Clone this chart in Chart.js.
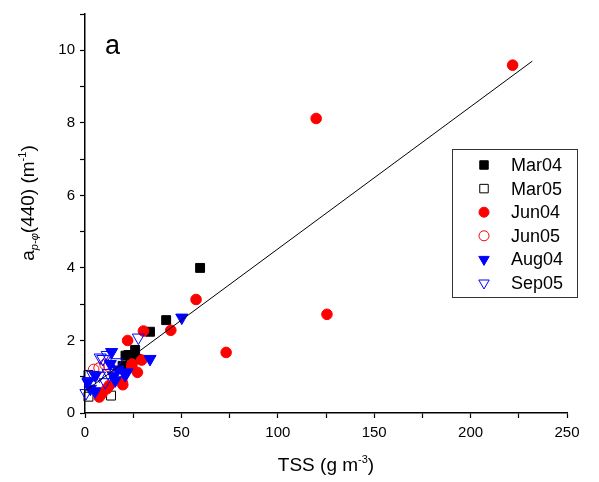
<!DOCTYPE html>
<html>
<head>
<meta charset="utf-8">
<script src="https://cdn.jsdelivr.net/npm/chart.js@4.4.1/dist/chart.umd.min.js"></script>
<style>
  html, body { margin: 0; padding: 0; background: #fff; }
  #wrap { width: 599px; height: 482px; position: relative; }
</style>
</head>
<body>
<div id="wrap"><canvas id="tssChart"></canvas></div>
<script>
// data (TSS g m-3, a_p-phi(440) m-1)
const mar04 = [[59.7,4.0],[42.1,2.56],[33.7,2.24],[26,1.74],[22.5,1.6],[21,1.58],[26.8,1.49],[19.5,1.3]];
const mar05 = [[1.8,1.05],[1.8,0.45],[13.5,0.48]];
const jun04 = [[221.8,9.59],[119.9,8.12],[125.5,2.72],[73.2,1.67],[57.6,3.13],[44.5,2.28],[30.3,2.26],
  [22.1,2.0],[29.4,1.46],[24.2,1.26],[27.2,1.12],[19.6,0.78],[19.2,0.86],[12.6,0.76],[8.8,0.54],
  [7.4,0.44],[11.4,0.67],[24.4,1.35]];
const jun05 = [[4.5,1.2],[7.3,1.24],[10.4,1.34],[12.5,1.28]];
const aug04 = [[50.2,2.63],[33.7,1.49],[13.8,1.68],[13.1,1.35],[21.8,1.12],[15.7,0.9],[20.8,1.05],
  [5.4,1.03],[2.8,0.67],[5.2,0.6],[14.7,1.03],[17,1.2],[1.5,0.85]];
const sep05 = [[27.7,2.08],[9.2,1.49],[16.4,1.4],[11.5,1.6],[7.9,1.53],[1.8,0.88],[7.5,1.03],
  [0.5,0.55],[10.5,0.85],[4,1.05],[12,1.1]];
const fitLine = [[0,0.6],[232,9.7]];

const xTicks = [0, 50, 100, 150, 200, 250];
const yTicks = [0, 2, 4, 6, 8, 10];

const toPts = arr => arr.map(p => ({ x: p[0], y: p[1] }));

const series = [
  { label: 'Mar04', data: mar04, style: 'rect', r: 6.3, rot: 0, color: '#000', filled: true, order: 6 },
  { label: 'Mar05', data: mar05, style: 'rect', r: 6.3, rot: 0, color: '#000', filled: false, order: 5 },
  { label: 'Jun04', data: jun04, style: 'circle', r: 5.3, rot: 0, color: '#ff0000', filled: true, order: 4 },
  { label: 'Jun05', data: jun05, style: 'circle', r: 5.3, rot: 0, color: '#ff0000', filled: false, order: 3 },
  { label: 'Aug04', data: aug04, style: 'triangle', r: 7, rot: 180, color: '#0000ff', filled: true, order: 2 },
  { label: 'Sep05', data: sep05, style: 'triangle', r: 7, rot: 180, color: '#0000ff', filled: false, order: 1 }
];

const FONT = "'Liberation Sans', Arial, sans-serif";

const datasets = series.map(s => ({
  label: s.label,
  data: toPts(s.data),
  pointStyle: s.style,
  pointRadius: s.r,
  pointRotation: s.rot,
  pointBorderWidth: 1,
  borderColor: s.color,
  backgroundColor: s.filled ? s.color : 'rgba(0,0,0,0)',
  pointBorderColor: s.color,
  pointBackgroundColor: s.filled ? s.color : 'rgba(0,0,0,0)',
  order: s.order,
  clip: false
}));

datasets.push({
  label: 'fit',
  data: toPts(fitLine),
  showLine: true,
  borderColor: '#000',
  borderWidth: 1,
  pointRadius: 0,
  order: 0,
  clip: false
});

// titles with sub/superscripts, panel letter and legend box
const extras = {
  id: 'extras',
  afterDraw(chart) {
    const ctx = chart.ctx;
    ctx.save();
    ctx.fillStyle = '#000';
    ctx.textBaseline = 'alphabetic';

    // panel label
    ctx.font = '27px ' + FONT;
    ctx.textAlign = 'left';
    ctx.fillText('a', 105, 54);

    // x title: TSS (g m-3)
    const xParts = [
      { t: 'TSS (g m', f: '19px ' + FONT, dy: 0 },
      { t: '-3', f: '11px ' + FONT, dy: -8 },
      { t: ')', f: '19px ' + FONT, dy: 0 }
    ];
    drawParts(ctx, xParts, chart.chartArea.left + (chart.chartArea.right - chart.chartArea.left) / 2, 471);

    // y title: a_p-phi(440) (m-1)
    ctx.translate(34, 203);
    ctx.rotate(-Math.PI / 2);
    const yParts = [
      { t: 'a', f: '19px ' + FONT, dy: 0 },
      { t: 'p-\u03c6', f: 'italic 11px ' + FONT, dy: 4 },
      { t: '(440) (m', f: '19px ' + FONT, dy: 0 },
      { t: '-1', f: '11px ' + FONT, dy: -8 },
      { t: ')', f: '19px ' + FONT, dy: 0 }
    ];
    drawParts(ctx, yParts, 0, 0);
    ctx.restore();

    // legend
    ctx.save();
    ctx.strokeStyle = '#333';
    ctx.lineWidth = 1;
    ctx.strokeRect(452.5, 149.5, 125, 148);
    ctx.font = '18px ' + FONT;
    ctx.textAlign = 'left';
    ctx.textBaseline = 'middle';
    series.forEach((s, i) => {
      const y = 165 + i * 23.6;
      ctx.fillStyle = s.filled ? s.color : 'rgba(0,0,0,0)';
      ctx.strokeStyle = s.color;
      ctx.lineWidth = 1;
      Chart.helpers.drawPoint(ctx, {
        pointStyle: s.style,
        radius: s.style === 'triangle' ? 6 : (s.style === 'rect' ? 6 : 5),
        rotation: s.rot,
        borderWidth: 1
      }, 484, y);
      ctx.fillStyle = '#000';
      ctx.fillText(s.label, 511, y + 1);
    });
    ctx.restore();
  }
};

function drawParts(ctx, parts, cx, baseY) {
  let total = 0;
  parts.forEach(p => { ctx.font = p.f; p.w = ctx.measureText(p.t).width; total += p.w; });
  let x = cx - total / 2;
  ctx.textAlign = 'left';
  parts.forEach(p => {
    ctx.font = p.f;
    ctx.fillText(p.t, x, baseY + p.dy);
    x += p.w;
  });
}

const ctx = document.getElementById('tssChart').getContext('2d');
const chart = new Chart(ctx, {
  type: 'scatter',
  data: { datasets: datasets },
  options: {
    responsive: true,
    maintainAspectRatio: false,
    animation: false,
    events: [],
    layout: { padding: { top: 10, right: 32, left: 0, bottom: 0 } },
    plugins: {
      legend: { display: false },
      tooltip: { enabled: false }
    },
    scales: {
      x: {
        type: 'linear',
        min: 0,
        max: 250,
        afterFit: s => { s.height = 69; },
        border: { display: true, color: '#000', width: 1.5 },
        grid: { drawOnChartArea: false, color: '#000', tickLength: 5, tickWidth: 1.2 },
        ticks: {
          stepSize: 25,
          autoSkip: false,
          maxRotation: 0,
          padding: 6,
          color: '#000',
          font: { size: 15, family: FONT },
          callback: v => (xTicks.includes(v) ? v : '')
        }
      },
      y: {
        type: 'linear',
        min: 0,
        max: 11,
        afterFit: s => { s.width = 85; },
        border: { display: true, color: '#000', width: 1.5 },
        grid: { drawOnChartArea: false, color: '#000', tickLength: 5, tickWidth: 1.2 },
        ticks: {
          stepSize: 1,
          autoSkip: false,
          padding: 5,
          color: '#000',
          font: { size: 15, family: FONT },
          callback: v => (yTicks.includes(v) ? v : '')
        }
      }
    }
  },
  plugins: [extras]
});
</script>
</body>
</html>
